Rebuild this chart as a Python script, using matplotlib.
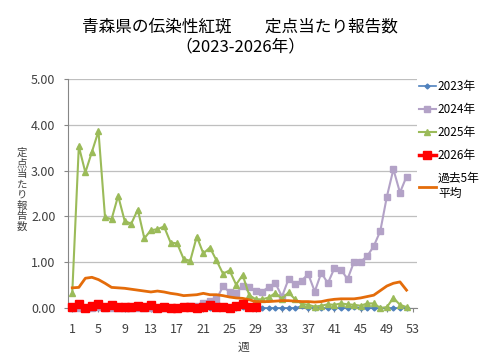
import numpy as np
import matplotlib
matplotlib.use("Agg")
import matplotlib.pyplot as plt

plt.rcParams['font.family'] = ['Noto Sans CJK JP', 'DejaVu Sans']

weeks = list(range(1, 53))

y2023 = [0, 0, 0, 0, 0, 0, 0, 0, 0, 0.03, 0, 0, 0, 0, 0, 0, 0, 0, 0, 0,
         0, 0, 0, 0, 0, 0, 0.03, 0, 0, 0, 0, 0, 0, 0, 0, 0.04, 0, 0, 0, 0,
         0, 0, 0, 0.03, 0, 0, 0, 0, 0, 0, 0, 0]

y2024 = [0, 0, 0, 0, 0.02, 0, 0, 0, 0, 0, 0, 0, 0, 0, 0, 0, 0, 0.02, 0.04, 0.05,
         0.12, 0.15, 0.19, 0.47, 0.35, 0.32, 0.48, 0.45, 0.37, 0.36, 0.46, 0.54, 0.25, 0.63, 0.52, 0.60, 0.74, 0.36, 0.77, 0.54,
         0.87, 0.84, 0.63, 1.01, 1.01, 1.13, 1.35, 1.68, 2.43, 3.03, 2.52, 2.87]

y2025 = [0.33, 3.53, 2.96, 3.41, 3.86, 1.98, 1.94, 2.45, 1.90, 1.84, 2.15, 1.52, 1.70, 1.72, 1.78, 1.43, 1.41, 1.07, 1.03, 1.56,
         1.19, 1.32, 1.04, 0.75, 0.82, 0.51, 0.72, 0.28, 0.19, 0.19, 0.23, 0.33, 0.20, 0.34, 0.19, 0.09, 0.07, 0.03, 0.05, 0.08,
         0.07, 0.10, 0.08, 0.07, 0.05, 0.10, 0.10, 0.0, 0.02, 0.22, 0.07, 0.02]

y2026 = [0.02, 0.09, 0.0, 0.04, 0.09, 0.03, 0.06, 0.03, 0.03, 0.02, 0.05, 0.03, 0.06, 0.0, 0.03, 0.0, 0.0, 0.02, 0.02, 0.0,
         0.03, 0.06, 0.03, 0.03, 0.0, 0.04, 0.09, 0.03, 0.03]

avg5 = [0.44, 0.45, 0.65, 0.67, 0.62, 0.54, 0.45, 0.44, 0.43, 0.41, 0.39, 0.37, 0.35, 0.37, 0.35, 0.32, 0.30, 0.27, 0.28, 0.29,
        0.32, 0.29, 0.29, 0.27, 0.24, 0.22, 0.21, 0.18, 0.14, 0.14, 0.14, 0.15, 0.16, 0.16, 0.15, 0.14, 0.14, 0.13, 0.14, 0.17,
        0.19, 0.20, 0.20, 0.20, 0.22, 0.25, 0.28, 0.38, 0.48, 0.54, 0.57, 0.39]

xticks = list(range(1, 54, 4))
yticks = [0, 1, 2, 3, 4, 5]
ylabel = '定点当たり報告数'

fig = plt.figure(figsize=(4.8, 3.6), dpi=100)
ax = fig.add_axes([68 / 480, 1 - 308 / 360, (417 - 68) / 480, (308 - 79) / 360])

ax.plot(weeks, y2023, color='#4F81BD', lw=1.2, marker='D', ms=2.5, label='2023年', clip_on=False, zorder=3)
ax.plot(weeks, y2024, color='#B3A2C7', lw=1.5, marker='s', ms=4, label='2024年', clip_on=False, zorder=3)
ax.plot(weeks, y2025, color='#9BBB59', lw=1.5, marker='^', ms=4, label='2025年', clip_on=False, zorder=3)
ax.plot(weeks[:len(y2026)], y2026, color='#FF0000', lw=2.5, marker='s', ms=6, label='2026年', clip_on=False, zorder=4)
ax.plot(weeks, avg5, color='#E46C0A', lw=2, label='過去5年\n平均', clip_on=False, zorder=3)

ax.set_xlim(0.35, 53.6)
ax.set_ylim(0, 5)
ax.set_xticks(xticks)
ax.set_yticks(yticks)
ax.set_yticklabels([f'{v:.2f}' for v in yticks])
ax.tick_params(axis='both', labelsize=9, colors='#404040', length=3, color='#868686')
ax.tick_params(axis='x', pad=8)
ax.tick_params(axis='y', pad=6)
ax.grid(axis='y', color='#BFBFBF', lw=0.9)
ax.set_axisbelow(True)
for s in ['top', 'right']:
    ax.spines[s].set_visible(False)
for s in ['left', 'bottom']:
    ax.spines[s].set_color('#868686')

fig.text(0.5, 1 - 27 / 360, '青森県の伝染性紅斑　　定点当たり報告数', ha='center', va='center', fontsize=12)
fig.text(0.5, 1 - 47 / 360, '（2023-2026年）', ha='center', va='center', fontsize=12)
fig.text(243 / 480, 1 - 347 / 360, '週', ha='center', va='center', fontsize=8.5, color='#404040')
# stacked vertical label, one character per row
for i, ch in enumerate(ylabel):
    fig.text(22 / 480, 1 - (153 + i * 10.5) / 360, ch, ha='center', va='center',
             fontsize=7.5, color='#404040')

ax.legend(loc='upper left', bbox_to_anchor=(419 / 480, 1 - 80 / 360), bbox_transform=fig.transFigure,
          frameon=False, fontsize=8.5, handlelength=1.4, handletextpad=0.2, labelspacing=0.85,
          borderaxespad=0, borderpad=0)

fig.savefig('out.png', dpi=100)
